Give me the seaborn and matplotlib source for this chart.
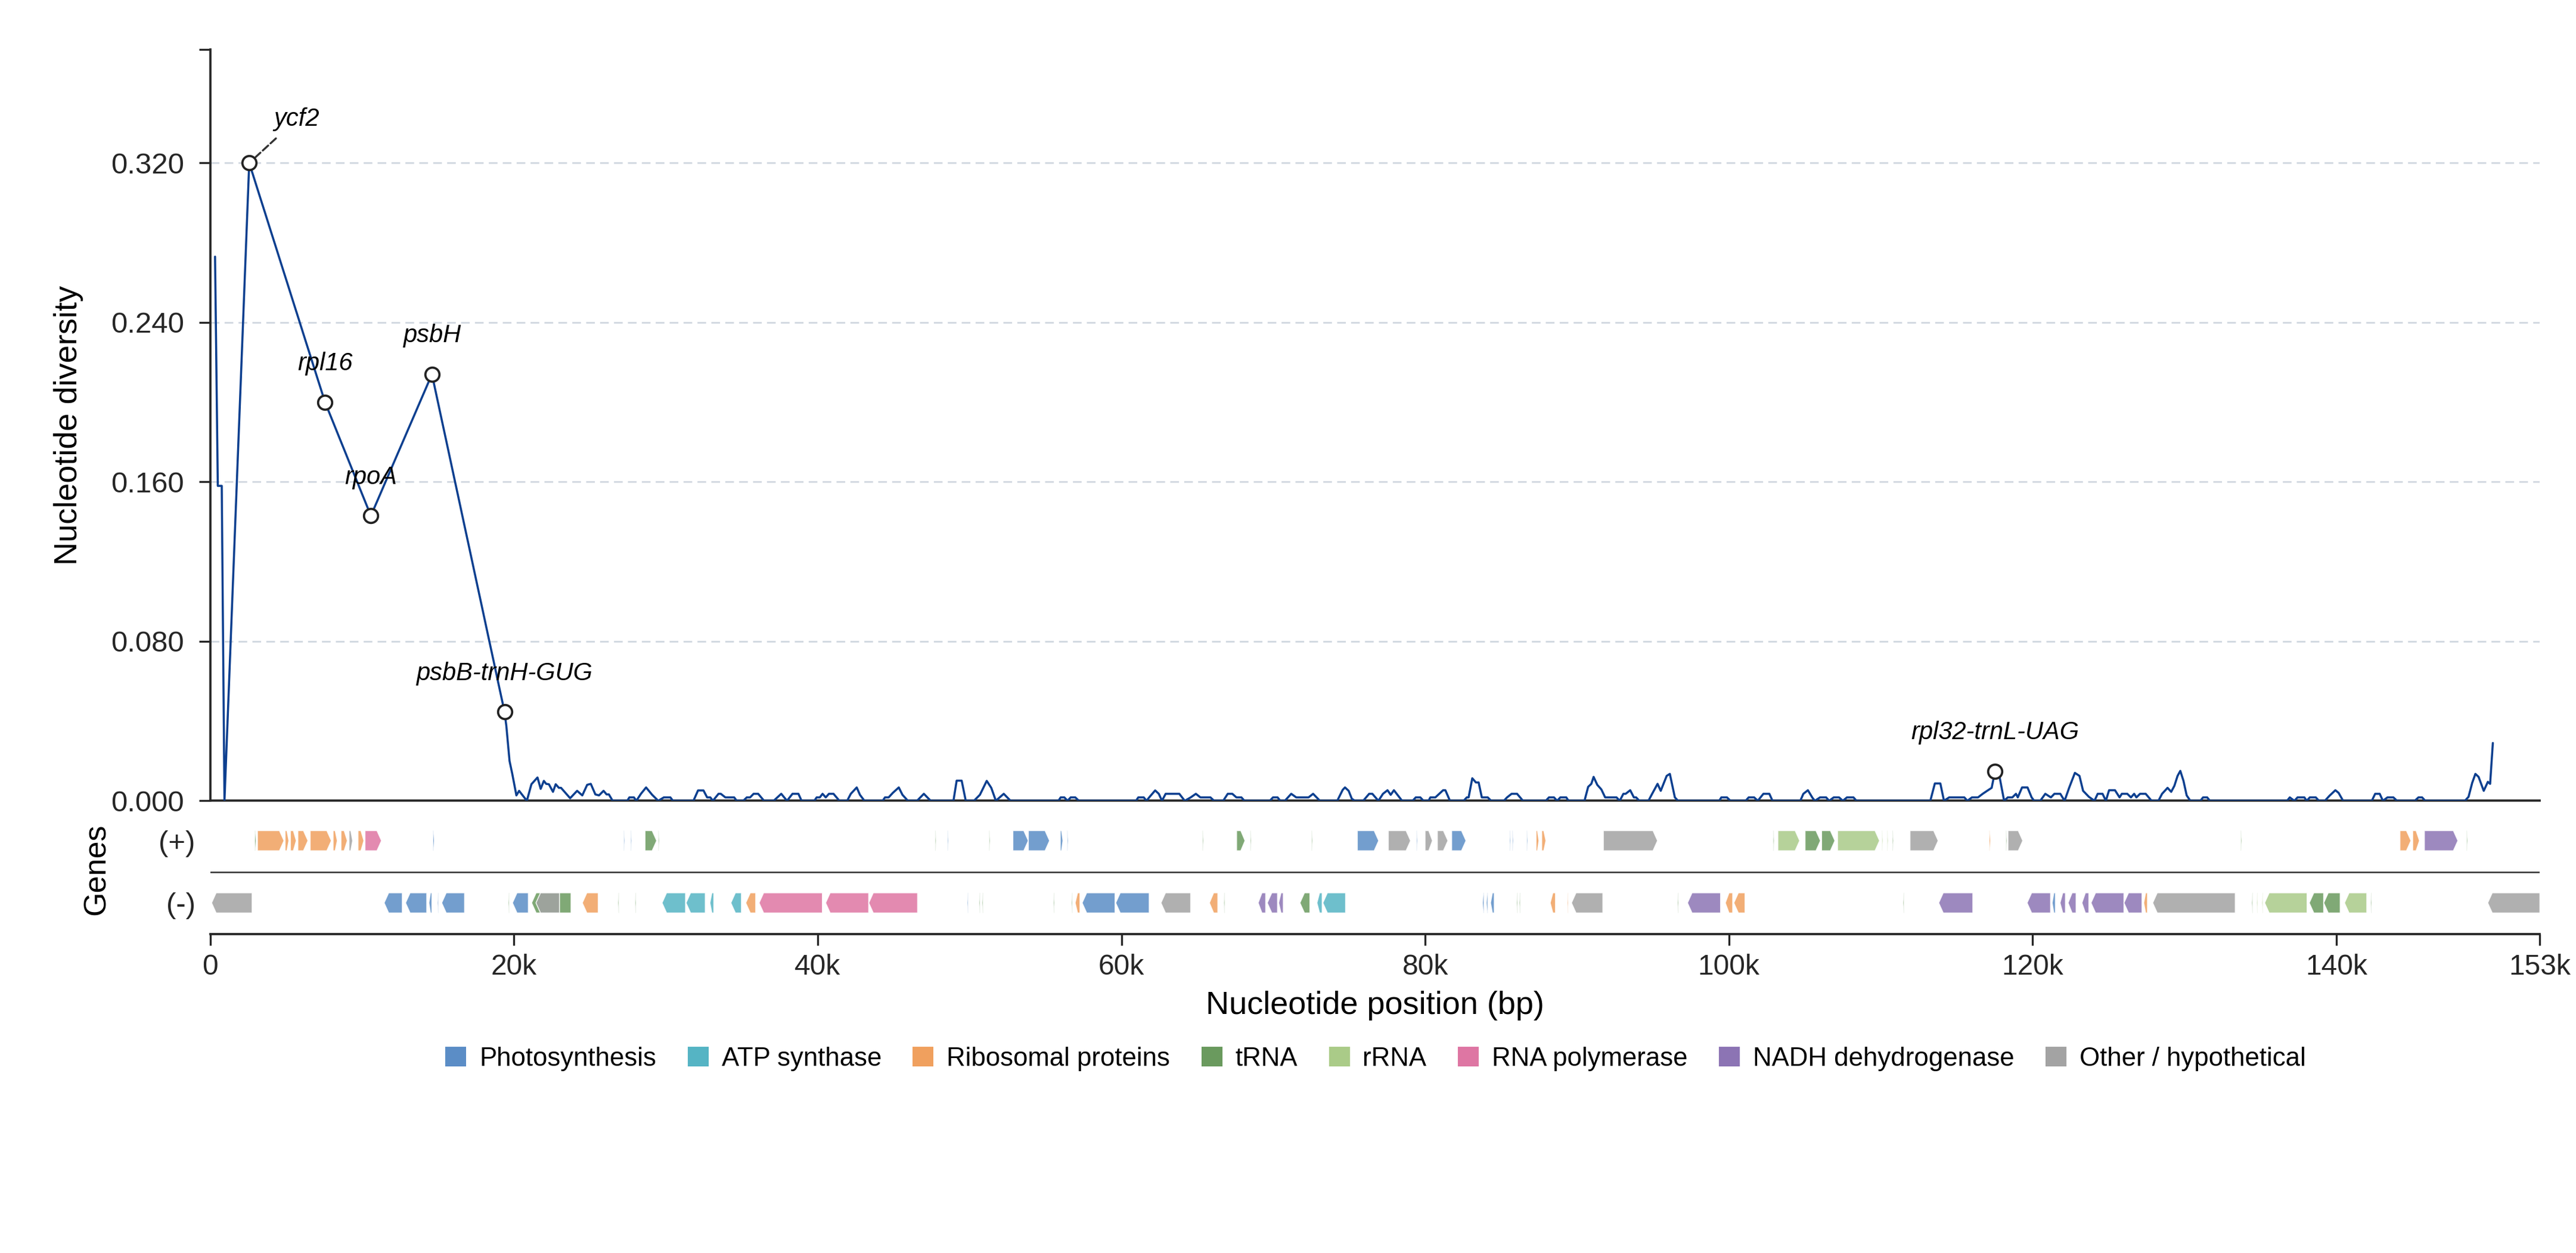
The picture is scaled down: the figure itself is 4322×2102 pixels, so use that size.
import pandas as pd
import seaborn as sns
import matplotlib.pyplot as plt
from matplotlib.patches import Polygon, Patch

# nucleotide diversity: window midpoints (kb) and pi values
early_kb = [0.32, 0.50, 0.76, 0.94, 2.57, 7.56, 10.58, 14.60, 19.38]
early_pi = [0.273, 0.158, 0.158, 0.0, 0.320, 0.200, 0.143, 0.214, 0.0446]

lsc_kb = [19.50, 19.71, 19.89, 20.16, 20.34, 20.85, 21.15, 21.55, 21.76, 21.97,
          22.12, 22.30, 22.57, 22.75, 22.96, 23.10, 23.70, 24.16, 24.50, 24.82,
          25.06, 25.36, 25.60, 25.90, 26.10, 26.25, 26.50, 27.46, 27.60, 27.90,
          28.06, 28.36, 28.70, 29.10, 29.50, 29.87, 30.30, 30.47, 31.82, 32.12,
          32.48, 32.72, 32.93, 33.10, 33.47, 33.62, 33.92, 34.50, 34.67, 35.10,
          35.33, 35.55, 35.78, 36.08, 36.47, 37.10, 37.60, 37.98, 38.34, 38.73,
          38.94, 39.78, 39.93, 40.14, 40.32, 40.53, 40.74, 41.04, 41.43, 41.94,
          42.18, 42.57, 42.78, 43.08, 44.28, 44.43, 44.67, 44.95, 45.34, 45.58,
          45.94, 46.54, 46.99, 47.44]
lsc_pi = [0.0375, 0.020, 0.0135, 0.0027, 0.005, 0, 0.0083, 0.0117, 0.006, 0.010,
          0.0085, 0.0083, 0.0045, 0.0083, 0.0065, 0.0065, 0.0013, 0.005, 0.0027, 0.008,
          0.0085, 0.0032, 0.0027, 0.005, 0.0032, 0.0032, 0, 0, 0.0017, 0.0017,
          0, 0.0035, 0.0067, 0.003, 0, 0.0017, 0.0017, 0, 0, 0.0052,
          0.0052, 0.0017, 0.0017, 0, 0.0035, 0.0035, 0.0017, 0.0017, 0, 0,
          0.0017, 0.0017, 0.0035, 0.0035, 0, 0, 0.0035, 0, 0.0035, 0.0035,
          0, 0, 0.0017, 0.0017, 0.0035, 0.0017, 0.0035, 0.0035, 0, 0,
          0.0035, 0.0067, 0.003, 0, 0, 0.0017, 0.0017, 0.004, 0.0067, 0.003,
          0, 0, 0.0035, 0]

mid_kb = [48.94, 49.15, 49.48, 49.75, 50.29, 50.68, 51.13, 51.43, 51.73, 52.25,
          52.70, 55.85, 56.00, 56.24, 56.45, 56.66, 56.96, 57.20, 60.96, 61.11,
          61.47, 61.65, 61.86, 62.22, 62.46, 62.67, 62.91, 63.81, 64.17, 64.56,
          64.90, 65.20, 65.86, 66.10, 66.70, 67.00, 67.30, 67.57, 67.90, 68.10,
          69.77, 69.98, 70.28, 70.46, 70.76, 71.18, 71.51, 72.32, 72.62, 73.07,
          74.21, 74.57, 74.72, 74.96, 75.17, 75.38, 75.92, 76.31, 76.52, 76.92,
          77.22, 77.52, 77.73, 77.94, 78.48, 79.17, 79.38, 79.68, 79.89, 80.22,
          80.34, 80.67, 81.18, 81.33, 81.63, 82.53, 82.74, 82.86, 83.10, 83.34,
          83.52, 83.73, 84.12, 84.34]
mid_pi = [0, 0.0101, 0.0101, 0, 0, 0.003, 0.010, 0.0065, 0, 0.0035,
          0, 0, 0.0017, 0.0017, 0, 0.0017, 0.0017, 0, 0, 0.0017,
          0.0017, 0, 0.002, 0.0052, 0.0035, 0, 0.0035, 0.0035, 0, 0.0017,
          0.0035, 0.0017, 0.0017, 0, 0, 0.0035, 0.0035, 0.0017, 0.0017, 0,
          0, 0.0017, 0.0017, 0, 0, 0.0035, 0.0017, 0.0017, 0.0035, 0,
          0, 0.0055, 0.0067, 0.005, 0.001, 0, 0, 0.0035, 0.0035, 0,
          0.0035, 0.0053, 0.003, 0.0053, 0, 0, 0.0017, 0.0017, 0, 0,
          0.0017, 0.0017, 0.0053, 0.0053, 0, 0, 0.0017, 0.0017, 0.0113, 0.0092,
          0.0092, 0.0017, 0.0017, 0]

ir_kb = [85.18, 85.39, 85.69, 86.05, 86.44, 87.94, 88.15, 88.48, 88.69, 88.90,
         89.29, 89.44, 90.49, 90.73, 90.94, 91.09, 91.33, 91.60, 91.85, 92.60,
         92.81, 93.05, 93.20, 93.50, 93.74, 93.89, 94.10, 94.70, 95.00, 95.30,
         95.51, 95.90, 96.11, 96.44, 96.65, 99.36, 99.50, 99.87, 100.10, 101.10,
         101.30, 101.66, 101.90, 102.27, 102.66, 102.87, 104.70, 104.90, 105.20, 105.50,
         105.66, 106.00, 106.40, 106.60, 106.90, 107.25, 107.50, 107.77, 108.20, 108.40,
         113.26, 113.56, 113.92, 114.16, 114.50, 115.50, 115.70, 116.00, 116.40, 116.71,
         117.00, 117.30, 117.52, 117.82, 118.12]
ir_pi = [0, 0.0017, 0.0035, 0.0035, 0, 0, 0.0017, 0.0017, 0, 0.0017,
         0.0017, 0, 0, 0.007, 0.0085, 0.012, 0.008, 0.0057, 0.0017, 0.0017,
         0, 0.0035, 0.0035, 0.0053, 0.0017, 0.0017, 0, 0, 0.0043, 0.0085,
         0.005, 0.0125, 0.0135, 0.0017, 0, 0, 0.0017, 0.0017, 0, 0,
         0.0017, 0.0017, 0, 0.0035, 0.0035, 0, 0, 0.0035, 0.0053, 0.0015,
         0, 0.0017, 0.0017, 0, 0.0017, 0.0017, 0, 0.0017, 0.0017, 0,
         0, 0.0087, 0.0087, 0, 0.0017, 0.0017, 0, 0.0017, 0.0017, 0.0035,
         0.005, 0.0065, 0.0148, 0.012, 0]

ssc_kb = [118.36, 118.66, 118.90, 119.02, 119.30, 119.66, 119.93, 120.10, 120.50, 120.83,
          121.20, 121.43, 121.82, 122.10, 122.40, 122.78, 123.08, 123.32, 123.70, 124.07,
          124.28, 124.60, 124.82, 125.03, 125.42, 125.72, 125.87, 126.23, 126.47, 126.68,
          126.83, 127.07, 127.44, 127.83, 128.28, 128.52, 128.88, 129.12, 129.33, 129.54,
          129.72, 129.93, 130.14, 130.38, 131.04, 131.22, 131.49, 131.67, 136.75, 136.93,
          137.23, 137.44, 137.89, 138.04, 138.25, 138.64, 138.85, 139.24, 139.54, 139.93,
          140.14, 140.44, 142.33, 142.55, 142.85, 143.06, 143.36, 143.75, 143.99, 145.16,
          145.40, 145.64, 145.85, 148.46, 148.70, 148.94, 149.15, 149.36, 149.70, 149.97,
          150.12, 150.30]
ssc_pi = [0.0017, 0.0017, 0.0035, 0.0017, 0.0067, 0.0067, 0.0017, 0, 0, 0.0035,
          0.0017, 0.0035, 0.0035, 0, 0.0065, 0.014, 0.0125, 0.005, 0.002, 0,
          0.0035, 0.0035, 0, 0.0053, 0.0053, 0.0017, 0.0035, 0.0035, 0.0017, 0.0035,
          0.0017, 0.0035, 0.0035, 0, 0, 0.0035, 0.0065, 0.0045, 0.0075, 0.0125,
          0.015, 0.010, 0.0027, 0, 0, 0.0017, 0.0017, 0, 0, 0.0017,
          0, 0.0017, 0.0017, 0, 0.0017, 0.0017, 0, 0, 0.0025, 0.0053,
          0.004, 0, 0, 0.0035, 0.0035, 0, 0.0017, 0.0017, 0, 0,
          0.0017, 0.0017, 0, 0, 0.002, 0.009, 0.0135, 0.012, 0.005, 0.0095,
          0.0085, 0.029]

# highlighted hotspots
hot_kb = [2.57, 7.56, 10.58, 14.60, 19.38, 117.52]
hot_names = ["ycf2", "rpl16", "rpoA", "psbH", "psbB-trnH-GUG", "rpl32-trnL-UAG"]

genome_len = 153400

# genes on the (+) strand: start, end (kb), category
plus_start = [2.93, 3.11, 4.93, 5.28, 5.77, 6.58, 8.09, 8.61, 9.14, 9.73,
              10.19, 14.66, 27.22, 27.68, 28.63, 29.50, 47.73, 48.54, 51.28, 52.85,
              53.87, 55.97, 56.42, 65.33, 67.58, 68.48, 72.51, 75.53, 77.57, 79.42,
              79.99, 80.80, 81.74, 85.56, 85.73, 86.68, 87.30, 87.67, 91.73, 102.91,
              103.22, 105.01, 106.10, 107.15, 110.06, 110.41, 110.76, 111.92, 117.13, 118.23,
              118.37, 133.69, 144.18, 145.02, 145.79, 148.56]
plus_end = [3.03, 4.86, 5.18, 5.67, 6.44, 7.98, 8.37, 9.03, 9.38, 10.12,
            11.28, 14.76, 27.30, 27.76, 29.40, 29.58, 47.81, 48.62, 51.36, 53.87,
            55.27, 56.15, 56.50, 65.41, 68.14, 68.56, 72.59, 76.94, 79.04, 79.50,
            80.48, 81.50, 82.69, 85.64, 85.81, 86.76, 87.49, 87.95, 95.30, 102.99,
            104.66, 106.03, 106.98, 109.92, 110.14, 110.49, 110.84, 113.78, 117.23, 118.31,
            119.35, 133.77, 144.91, 145.47, 148.00, 148.64]
plus_cat = ["T", "RP", "RP", "RP", "RP", "RP", "RP", "RP", "O", "RP",
            "POL", "PS", "PS", "PS", "T", "T", "T", "PS", "T", "PS",
            "PS", "PS", "PS", "T", "T", "T", "T", "PS", "O", "PS",
            "O", "O", "PS", "PS", "PS", "PS", "RP", "RP", "O", "T",
            "R", "T", "T", "R", "R", "R", "T", "O", "RP", "T",
            "O", "T", "RP", "RP", "NDH", "T"]

# genes on the (-) strand
minus_start = [0.09, 11.45, 12.86, 14.40, 14.96, 15.24, 19.62, 19.90, 21.16, 21.45,
               24.50, 26.84, 27.96, 29.75, 31.33, 32.90, 34.28, 35.26, 36.14, 40.52,
               43.36, 49.84, 50.62, 50.82, 55.51, 56.70, 56.95, 57.41, 59.62, 62.60,
               65.79, 66.73, 69.00, 69.60, 70.35, 71.75, 72.87, 73.26, 83.77, 84.02,
               84.30, 86.01, 86.19, 88.23, 89.34, 89.63, 96.60, 97.27, 99.76, 100.32,
               111.46, 113.81, 119.63, 121.28, 121.80, 122.33, 123.24, 123.84, 126.01, 127.31,
               127.90, 134.42, 134.74, 135.09, 135.27, 138.21, 139.16, 140.53, 142.24, 149.96]
minus_end = [2.76, 12.65, 14.26, 14.60, 15.04, 16.75, 19.70, 20.95, 23.76, 23.00,
             25.55, 26.92, 28.04, 31.30, 32.60, 33.16, 34.98, 35.92, 40.31, 43.36,
             46.58, 49.92, 50.70, 50.90, 55.59, 56.78, 57.27, 59.58, 61.83, 64.56,
             66.35, 66.81, 69.50, 70.28, 70.66, 72.41, 73.22, 74.76, 83.88, 84.13,
             84.55, 86.09, 86.27, 88.58, 89.42, 91.70, 96.68, 99.45, 100.25, 101.06,
             111.54, 116.06, 121.18, 121.50, 122.16, 122.86, 123.70, 126.01, 127.20, 127.56,
             133.34, 134.50, 134.82, 135.17, 138.07, 139.16, 140.25, 142.00, 142.32, 153.40]
minus_cat = ["O", "PS", "PS", "PS", "PS", "PS", "T", "PS", "T", "O",
             "RP", "T", "T", "ATP", "ATP", "ATP", "ATP", "RP", "POL", "POL",
             "POL", "PS", "T", "T", "T", "T", "RP", "PS", "PS", "O",
             "RP", "T", "NDH", "NDH", "NDH", "T", "ATP", "ATP", "PS", "PS",
             "PS", "T", "T", "RP", "RP", "O", "T", "NDH", "RP", "RP",
             "T", "NDH", "NDH", "PS", "NDH", "NDH", "NDH", "NDH", "NDH", "RP",
             "O", "T", "R", "R", "R", "T", "T", "R", "T", "O"]

cat_names = {"PS": "Photosynthesis", "ATP": "ATP synthase", "RP": "Ribosomal proteins",
             "T": "tRNA", "R": "rRNA", "POL": "RNA polymerase",
             "NDH": "NADH dehydrogenase", "O": "Other / hypothetical"}
cat_colors = {"PS": "#5B8DC6", "ATP": "#55B4C4", "RP": "#F0A05E", "T": "#6A9A5E",
              "R": "#AACB88", "POL": "#DE76A3", "NDH": "#8C74B4", "O": "#A3A3A3"}

LINE = "#0D3F8F"
INK = "#262626"

sns.set_theme(style="ticks", rc={"axes.edgecolor": INK, "axes.linewidth": 0.9,
                                 "xtick.color": INK, "ytick.color": INK,
                                 "xtick.major.width": 0.8, "ytick.major.width": 0.8,
                                 "xtick.major.size": 4.5, "ytick.major.size": 4.5,
                                 "axes.labelcolor": "black", "text.color": "black"})
plt.rcParams["font.family"] = ["Liberation Sans", "DejaVu Sans"]

div = pd.DataFrame({"pos": [k * 1000 for k in early_kb + lsc_kb + mid_kb + ir_kb + ssc_kb],
                    "pi": early_pi + lsc_pi + mid_pi + ir_pi + ssc_pi})

fig = plt.figure(figsize=(4322 / 300, 2102 / 300), dpi=300)
ax = fig.add_axes([0.0816, 0.3609, 0.9044, 0.5997])
gx = fig.add_axes([0.0816, 0.2546, 0.9044, 0.1034], sharex=ax)

# diversity curve
ytop = 0.377
for v in [0.08, 0.16, 0.24, 0.32]:
    ax.axhline(v, color="#D3D9E1", lw=0.7, ls=(0, (5, 3)), zorder=0)
sns.lineplot(data=div, x="pos", y="pi", ax=ax, color=LINE, linewidth=0.85,
             estimator=None, zorder=3)

lookup = dict(zip(div["pos"], div["pi"]))
for k, name in zip(hot_kb, hot_names):
    x = k * 1000
    y = lookup[x]
    ax.scatter([x], [y], s=32, facecolor="white", edgecolor="#222222",
               linewidth=0.9, zorder=5)
    if name == "ycf2":
        ax.annotate(name, (x, y), xytext=(19, 17.5), textcoords="offset points",
                    ha="center", va="center", fontsize=10, style="italic",
                    arrowprops=dict(arrowstyle="-", linestyle="--", color="#333333",
                                    lw=0.8, shrinkA=1, shrinkB=3.5))
    else:
        ax.annotate(name, (x, y), xytext=(0, 15.5), textcoords="offset points",
                    ha="center", va="center", fontsize=10, style="italic")

ax.set_ylim(0, ytop)
ax.set_yticks([0, 0.08, 0.16, 0.24, 0.32, ytop])
ax.set_yticklabels(["0.000", "0.080", "0.160", "0.240", "0.320", ""])
ax.tick_params(axis="y", labelsize=11.8, pad=6)
ax.tick_params(axis="x", bottom=False, labelbottom=False)
ax.set_xlabel("")
ax.set_ylabel("Nucleotide diversity", fontsize=13, labelpad=11)
sns.despine(ax=ax)

# gene tracks
y_plus, y_minus, half_h = 0.72, 0.24, 0.078
head_bp = 300


def draw_gene(s_kb, e_kb, strand_y, forward, code):
    s, e = s_kb * 1000, e_kb * 1000
    head = min(head_bp, 0.5 * (e - s))
    if forward:
        pts = [(s, strand_y - half_h), (e - head, strand_y - half_h), (e, strand_y),
               (e - head, strand_y + half_h), (s, strand_y + half_h)]
    else:
        pts = [(e, strand_y - half_h), (s + head, strand_y - half_h), (s, strand_y),
               (s + head, strand_y + half_h), (e, strand_y + half_h)]
    gx.add_patch(Polygon(pts, closed=True, facecolor=cat_colors[code], alpha=0.85,
                         edgecolor="white", linewidth=0.4))


for s, e, c in zip(plus_start, plus_end, plus_cat):
    draw_gene(s, e, y_plus, True, c)
for s, e, c in zip(minus_start, minus_end, minus_cat):
    draw_gene(s, e, y_minus, False, c)

gx.axhline(0.48, color="#333333", lw=0.6)
gx.set_ylim(0, 1)
gx.set_yticks([y_minus, y_plus])
gx.set_yticklabels(["(-)", "(+)"])
gx.tick_params(axis="y", length=0, labelsize=11.8, pad=6)
gx.set_ylabel("Genes", fontsize=12.5, labelpad=19)

xt = [0, 20000, 40000, 60000, 80000, 100000, 120000, 140000, genome_len]
gx.set_xlim(0, genome_len)
gx.set_xticks(xt)
gx.set_xticklabels(["0", "20k", "40k", "60k", "80k", "100k", "120k", "140k", "153k"])
gx.tick_params(axis="x", labelsize=11.5)
gx.set_xlabel("Nucleotide position (bp)", fontsize=13)
sns.despine(ax=gx, left=True)

handles = [Patch(facecolor=cat_colors[c], edgecolor="none", label=cat_names[c])
           for c in ["PS", "ATP", "RP", "T", "R", "POL", "NDH", "O"]]
fig.legend(handles=handles, loc="center", bbox_to_anchor=(0.534, 0.155), ncol=8,
           frameon=False, fontsize=10.5, handlelength=0.8, handleheight=0.8,
           handletextpad=0.5, columnspacing=1.2)

fig.savefig("out.png", dpi=300, facecolor="white")
